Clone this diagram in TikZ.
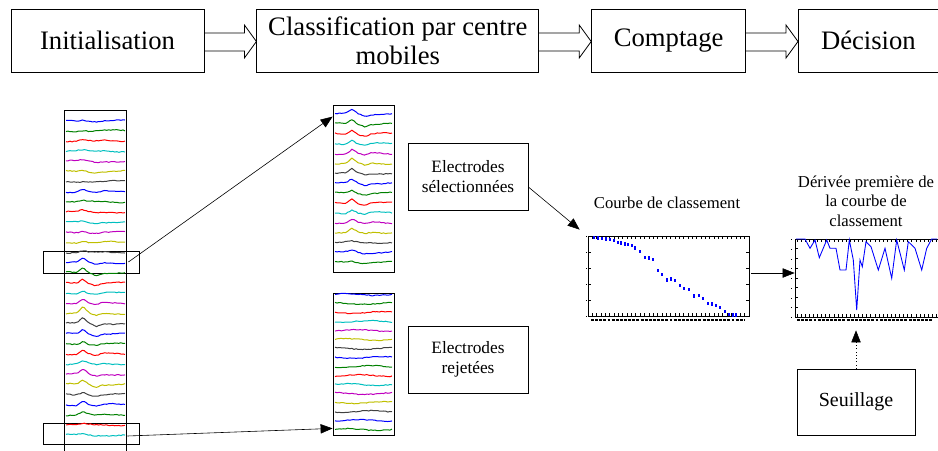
\documentclass[tikz,border=0pt]{standalone}
\usepackage{fontspec}
\setmainfont{Liberation Serif}
\usetikzlibrary{arrows.meta,positioning,calc}
\definecolor{trblue}{RGB}{0,0,255}
\definecolor{trgreen}{RGB}{0,128,0}
\definecolor{trred}{RGB}{255,0,0}
\definecolor{trcyan}{RGB}{0,191,191}
\definecolor{trmag}{RGB}{191,0,191}
\definecolor{tryel}{RGB}{191,191,0}
\definecolor{trgray}{RGB}{64,64,64}
\tikzset{
    stagebox/.style={draw, line width=0.6pt, align=center, inner sep=2pt,
        font=\fontsize{20}{22}\selectfont, minimum height=47.25pt},
    notebox/.style={draw, line width=0.6pt, align=center,
        font=\fontsize{13}{15}\selectfont, minimum width=90pt, minimum height=50.25pt},
    panel/.style={draw, line width=0.6pt, inner sep=0pt},
    plotframe/.style={draw, line width=0.5pt, inner sep=0pt},
    plottitle/.style={align=center, font=\fontsize{12.5}{14.5}\selectfont},
    sigarrow/.style={-{Triangle[length=9pt,width=7pt]}, line width=0.45pt},
    dotarrow/.style={sigarrow, dotted},
    trace/.style={line width=0.75pt},
    tick/.style={line width=0.6pt}
}
% open arrow between two stages
\newcommand{\stagearrow}[2]{%
  \draw[line width=0.6pt] ($(#1.east)+(0,-7.5)$) -- ($(#2.west)+(-12,-7.5)$)
    -- ($(#2.west)+(-12,-15.5)$) -- ($(#2.west)+(0,1)$) -- ($(#2.west)+(-12,17.5)$)
    -- ($(#2.west)+(-12,10.5)$) -- ($(#1.east)+(0,10.5)$);}

\begin{document}
\begin{tikzpicture}[x=0.75pt, y=-0.75pt, node distance=39pt]
\useasboundingbox (0,0) rectangle (938,450);

% processing chain
\node[stagebox, minimum width=144.75pt] (init) at (107.5,40.5) {Initialisation};
\node[stagebox, minimum width=211.5pt, right=of init] (classif) {Classification par centre\\mobiles};
\node[stagebox, minimum width=115.5pt, right=of classif] (count) {Comptage};
\node[stagebox, minimum width=105pt, right=of count] (decide) {Décision};
\stagearrow{init}{classif}
\stagearrow{classif}{count}
\stagearrow{count}{decide}

% signal panels
\node[panel, minimum width=46.5pt, minimum height=257.25pt] (allsig) at (95,281.5) {};
\node[panel, minimum width=45.75pt, minimum height=125.25pt] (selsig) at (363.5,188.5) {};
\node[panel, minimum width=45.75pt, minimum height=106.5pt] (rejsig) at (363.5,364) {};
\node[panel, minimum width=72pt, minimum height=16.5pt] (upwin) at (91,262) {};
\node[panel, minimum width=72pt, minimum height=15.75pt] (lowwin) at (91,433.5) {};

\pgfmathsetseed{11}
\foreach \i in {0,...,31}{
  \pgfmathparse{{"trblue","trgreen","trred","trcyan","trmag","tryel","trgray"}[int(mod(\i,7))]}
  \edef\trcol{\pgfmathresult}
  \pgfmathsetmacro\amp{1.5*{1,0.5,1,0.5,1,1,0.5,2,0.5,1,1,1,1,1,3,3,3,2,3,4,4,3,2,3,2,3,3,2,3,2,0.5,0.5}[\i]}
  \pgfmathsetmacro\base{120.7+\i*10.14}
  \draw[trace, \trcol] plot[domain=66:125, samples=30]
    (\x, {\base-\amp*max(0,1-abs(\x-83)/6)+0.45*\amp*max(0,1-abs(\x-96)/7)+0.8*sin(5*\x+67*\i)+0.45*rand});
}
\foreach \i in {0,...,15}{
  \pgfmathparse{{"trblue","trgreen","trred","trcyan","trmag","tryel","trgray"}[int(mod(\i,7))]}
  \edef\trcol{\pgfmathresult}
  \pgfmathsetmacro\amp{1.5*{3,3,3,3,3,3.5,2.5,2.5,2,3,2.5,2.5,2.5,0.5,1.5,1}[\i]}
  \pgfmathsetmacro\base{114+\i*9.88}
  \draw[trace, \trcol] plot[domain=335:392, samples=28]
    (\x, {\base-\amp*max(0,1-abs(\x-352)/6)+0.45*\amp*max(0,1-abs(\x-365)/7)+0.8*sin(6*\x+53*\i)+0.45*rand});
}
\foreach \i in {0,...,15}{
  \pgfmathparse{{"trblue","trgreen","trred","trcyan","trmag","tryel","trgray"}[int(mod(\i,7))]}
  \edef\trcol{\pgfmathresult}
  \pgfmathsetmacro\base{294.5+\i*9.0}
  \draw[trace, \trcol] plot[domain=335:392, samples=28]
    (\x, {\base+0.9*sin(6*\x+71*\i)+0.45*rand});
}

\coordinate (upstart) at ($(upwin.east)+(-11,0)$);
\coordinate (lowstart) at ($(lowwin.east)+(-12,2.5)$);
\draw[sigarrow] (upstart) -- ($(selsig.north west)+(0,12)$);
\draw[sigarrow] (lowstart) -- ($(rejsig.south west)+(0,-7)$);

\node[notebox] (selbox) at (468,176.5) {Electrodes\\sélectionnées};
\node[notebox] (rejbox) at (468,359.5) {Electrodes\\rejetées};

% ranking curve
\node[plotframe, minimum width=120.75pt, minimum height=60pt] (rankplot) at (668.5,276) {};
\node[plottitle] (ranktitle) at (667,203) {Courbe de classement};
\foreach \k in {0,...,36}{
  \draw[tick] ({588+\k*4.35},236) -- ++(0,3);
  \draw[tick] ({588+\k*4.35},316) -- ++(0,-3);
}
\foreach \t in {236,252,268,284,300,316}{
  \draw[tick] (588,\t) -- ++(3,0);
  \draw[tick] (749,\t) -- ++(-3,0);
  \fill (585.5,\t) rectangle ++(1.2,1.2);
}
\draw[line width=1.5pt, dash pattern=on 2.2pt off 0.9pt] (591,320) -- (745,320);
\foreach \px/\py in {593/236,597/236.3,601/236.7,605/237.3,609/238,613/239,617/240.7,620/241.3,624/242.3,627/243,631/243.7,634/246.3,639/250,644/255.7,648/256.3,652/257.7,657/269,661/272.7,666/278.3,670/277.3,674/279,679/284,683/286.7,688/287.7,693/294.3,698/294,702/296.7,707/301.7,711/302.3,715/304,719/305.7,724/310,728/312.7,732/313.3,735/313.3}
  \fill[trblue] (\px,\py) rectangle ++(1.8,3.2);

% first derivative
\node[plotframe, minimum width=109.5pt, minimum height=58.5pt] (derivplot) at (868,278) {};
\node[plottitle] (derivtitle) at (866,201) {Dérivée première de\\la courbe de\\classement};
\foreach \k in {0,...,34}{
  \draw[tick] ({797+\k*4.1},239) -- ++(0,3);
  \draw[tick] ({797+\k*4.1},317) -- ++(0,-3);
}
\foreach \t in {239,248.7,258.5,268.2,278,287.7,297.5,307.2,317}{
  \draw[tick] (795,\t) -- ++(3,0);
  \fill (790.5,\t) rectangle ++(1.5,1.2);
}
\draw[line width=1.5pt, dash pattern=on 2.2pt off 0.9pt] (797,320) -- (933,320);
\draw[trblue, line width=0.65pt] plot coordinates {(796,239) (805,239) (810,248.3) (815,240)
  (819.3,257.7) (826.7,240) (830,248.3) (836,248.3) (840,270) (846,270) (849.3,240)
  (853.3,260) (856.7,310) (860,260) (862.3,266.7) (866,241.7) (871,246.7) (878.3,270)
  (885,248.3) (891.7,278.3) (896.7,240) (904.3,270) (908.3,241.7) (915,248.3)
  (921.7,270) (926.7,248.3) (931.7,239) (937,239)};

\node[notebox, minimum width=88.5pt, minimum height=49.5pt, font=\fontsize{15}{17}\selectfont] (thresh) at (856,402) {Seuillage};
\coordinate (derivfoot) at ($(derivplot.south)+(0,13)$);

\draw[sigarrow] ($(selbox.east)+(0,10.5)$) -- ($(rankplot.north west)+(-8,-6)$);
\draw[sigarrow] ($(rankplot.east)+(2,-3)$) -- ($(derivplot.west)+(0,-5)$);
\draw[dotarrow] (thresh.north) -- (thresh.north |- derivfoot);
\end{tikzpicture}
\end{document}
